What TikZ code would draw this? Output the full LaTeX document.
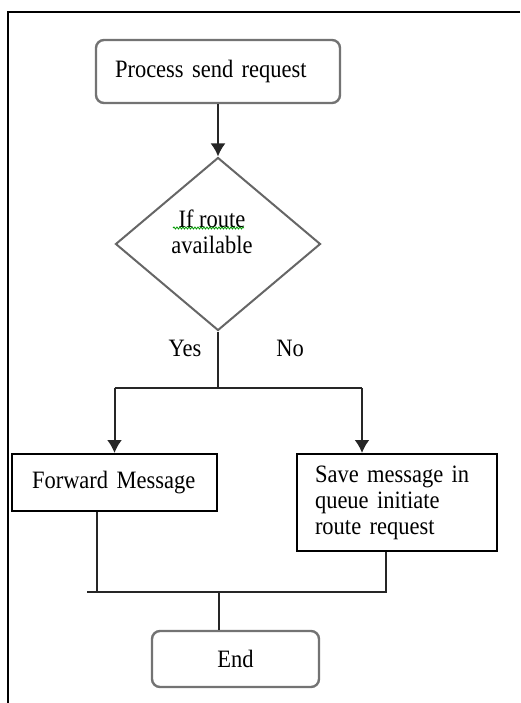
\documentclass[tikz,border=0pt]{standalone}
\usepackage{fontspec}
\setmainfont{Liberation Serif}[FakeStretch=0.9]
\usetikzlibrary{arrows.meta,positioning,calc,shapes.geometric,decorations.pathmorphing}

\begin{document}
\begin{tikzpicture}[x=1pt,y=-1pt,>={Latex[length=13pt,width=15pt]},
    every node/.style={font=\fontsize{25}{26}\selectfont,inner sep=0pt},
    roundbox/.style={draw=black!55,line width=2.4pt,rounded corners=8pt},
    plainbox/.style={draw,line width=2pt,align=left},
    decision/.style={draw=black!60,line width=2pt,diamond,aspect=1.18,minimum width=205pt,minimum height=173pt},
    flow/.style={line width=2pt,draw=black!85}]
    \useasboundingbox (0,0) rectangle (520,703);
    % frame
    \draw[line width=2.8pt] (520,12) -- (8,12) -- (8,703);
    \node[roundbox,minimum width=244pt,minimum height=63pt,text width=206pt,inner xsep=19pt,align=left] (proc) at (218,71.5) {Process send request};
    \node[decision] (route) at (218,244) {};
    \node[align=center] (routetext) at (212,232) {If route\\available};
    \draw[green!60!black,line width=0.8pt,decorate,decoration={snake,amplitude=1pt,segment length=3pt}] (173,228) -- (244,228);
    \node (yes) at (185,348) {Yes};
    \node (no) at (290,348) {No};
    \node[plainbox,minimum width=205pt,minimum height=57pt,text width=165pt,inner xsep=20pt] (fwd) at (114.5,482.5) {Forward Message};
    \node[plainbox,minimum width=200pt,minimum height=97pt,text width=164pt,inner xsep=18pt] (save) at (397,502.5) {Save message in\\queue initiate\\route request};
    \node[roundbox,minimum width=167pt,minimum height=56pt] (fin) at (235.5,659) {End};
    \coordinate (split) at (218,388);
    \coordinate (splitl) at (114.5,388);
    \coordinate (splitr) at (362,388);
    \coordinate (joinfwd) at (97,592);
    \coordinate (joinl) at (87,592);
    \coordinate (join) at (219,592);
    \coordinate (joinr) at (386,592);
    \draw[flow,->] (proc) -- (route);
    \draw[flow] (route.south) -- (split);
    \draw[flow] (splitl) -- (splitr);
    \draw[flow,->] (splitl) -- (fwd);
    \draw[flow,->] (splitr) -- (save.north -| splitr);
    \draw[flow] (fwd.south -| joinfwd) -- (joinfwd);
    \draw[flow] (save.south -| joinr) -- (joinr) -- (joinl);
    \draw[flow] (join) -- (fin.north -| join);
  \end{tikzpicture}
\end{document}
